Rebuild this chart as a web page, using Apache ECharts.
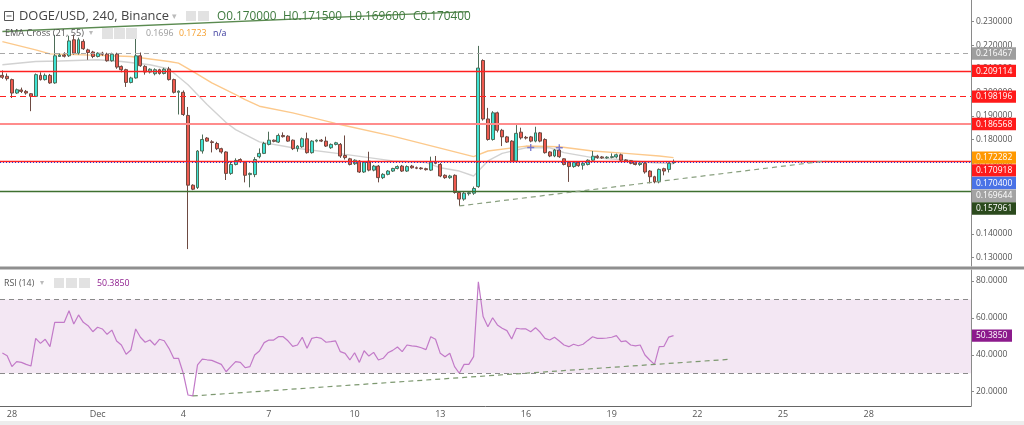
<!DOCTYPE html>
<html><head><meta charset="utf-8">
<script src="https://cdn.jsdelivr.net/npm/echarts@6/dist/echarts.min.js"></script>
<style>html,body{margin:0;padding:0;background:#fff}#c{width:1024px;height:425px}</style>
</head><body><div id="c"></div><script>
// ---- data ----
const opens = [0.2072,0.2068,0.2054,0.1997,0.2010,0.2004,0.1994,0.1983,0.2072,0.2054,
0.2072,0.2040,0.2152,0.2158,0.2155,0.2223,0.2166,0.2216,0.2180,0.2171,
0.2152,0.2166,0.2162,0.2134,0.2162,0.2110,0.2096,0.2042,0.2061,0.2155,
0.2110,0.2086,0.2079,0.2096,0.2080,0.2099,0.2054,0.2000,0.2000,0.1902,
0.1606,0.1596,0.1751,0.1806,0.1790,0.1783,0.1761,0.1747,0.1656,0.1694,
0.1715,0.1704,0.1651,0.1651,0.1727,0.1741,0.1779,0.1797,0.1789,0.1817,
0.1814,0.1797,0.1761,0.1769,0.1803,0.1744,0.1793,0.1797,0.1793,0.1765,
0.1779,0.1779,0.1732,0.1718,0.1697,0.1708,0.1662,0.1708,0.1670,0.1687,
0.1638,0.1652,0.1666,0.1677,0.1687,0.1666,0.1687,0.1680,0.1679,0.1676,
0.1670,0.1704,0.1694,0.1648,0.1638,0.1648,0.1575,0.1547,0.1570,0.1572,
0.1600,0.2135,0.1887,0.1800,0.1913,0.1839,0.1811,0.1793,0.1708,0.1831,
0.1809,0.1811,0.1793,0.1828,0.1800,0.1747,0.1730,0.1755,0.1718,0.1702,
0.1685,0.1702,0.1691,0.1694,0.1712,0.1729,0.1726,0.1722,0.1724,0.1726,
0.1735,0.1713,0.1710,0.1700,0.1694,0.1699,0.1666,0.1642,0.1620,0.1676,
0.1673,0.1700];
const highs = [0.2093,0.2080,0.2058,0.2016,0.2020,0.2010,0.1997,0.2080,0.2085,0.2080,
0.2078,0.2244,0.2165,0.2170,0.2240,0.2245,0.2232,0.2225,0.2185,0.2176,
0.2170,0.2172,0.2168,0.2168,0.2168,0.2114,0.2100,0.2066,0.2240,0.2169,
0.2115,0.2102,0.2102,0.2100,0.2104,0.2108,0.2058,0.2008,0.2008,0.1938,
0.1610,0.1755,0.1821,0.1810,0.1797,0.1790,0.1765,0.1750,0.1705,0.1720,
0.1720,0.1708,0.1660,0.1725,0.1762,0.1790,0.1833,0.1800,0.1825,0.1830,
0.1818,0.1800,0.1776,0.1808,0.1829,0.1797,0.1800,0.1802,0.1812,0.1783,
0.1790,0.1785,0.1817,0.1722,0.1716,0.1712,0.1708,0.1748,0.1692,0.1692,
0.1657,0.1670,0.1680,0.1690,0.1692,0.1690,0.1692,0.1685,0.1683,0.1680,
0.1727,0.1730,0.1700,0.1652,0.1650,0.1652,0.1580,0.1580,0.1580,0.1600,
0.2197,0.2140,0.1934,0.1920,0.1918,0.1845,0.1815,0.1797,0.1861,0.1850,
0.1815,0.1815,0.1854,0.1832,0.1805,0.1750,0.1760,0.1760,0.1720,0.1708,
0.1708,0.1708,0.1705,0.1716,0.1751,0.1735,0.1730,0.1729,0.1741,0.1740,
0.1740,0.1716,0.1712,0.1703,0.1704,0.1704,0.1670,0.1646,0.1677,0.1680,
0.1703,0.1715];
const lows = [0.2057,0.2050,0.1976,0.1993,0.1997,0.1990,0.1920,0.1980,0.2050,0.2050,
0.2036,0.2036,0.2150,0.2148,0.2150,0.2160,0.2160,0.2180,0.2138,0.2145,
0.2148,0.2155,0.2130,0.2130,0.2100,0.2085,0.2023,0.2038,0.2058,0.2108,
0.2075,0.2080,0.2072,0.2075,0.2076,0.2050,0.1995,0.1906,0.1900,0.1335,
0.1585,0.1590,0.1740,0.1790,0.1745,0.1755,0.1740,0.1628,0.1650,0.1690,
0.1700,0.1618,0.1597,0.1640,0.1720,0.1738,0.1775,0.1788,0.1785,0.1808,
0.1790,0.1755,0.1748,0.1765,0.1740,0.1740,0.1788,0.1789,0.1768,0.1760,
0.1775,0.1722,0.1715,0.1690,0.1692,0.1658,0.1658,0.1665,0.1665,0.1618,
0.1632,0.1648,0.1662,0.1673,0.1662,0.1662,0.1676,0.1674,0.1672,0.1668,
0.1666,0.1695,0.1640,0.1633,0.1633,0.1570,0.1518,0.1540,0.1562,0.1565,
0.1595,0.1880,0.1795,0.1795,0.1830,0.1772,0.1785,0.1704,0.1704,0.1800,
0.1800,0.1788,0.1788,0.1788,0.1740,0.1725,0.1725,0.1722,0.1690,0.1620,
0.1680,0.1684,0.1672,0.1690,0.1708,0.1718,0.1718,0.1718,0.1720,0.1720,
0.1708,0.1704,0.1695,0.1690,0.1688,0.1655,0.1614,0.1614,0.1614,0.1648,
0.1660,0.1696];
const closes = [0.2064,0.2058,0.1997,0.2011,0.2004,0.1997,0.1983,0.2075,0.2054,0.2072,
0.2040,0.2155,0.2158,0.2153,0.2218,0.2166,0.2223,0.2185,0.2169,0.2152,
0.2166,0.2162,0.2134,0.2162,0.2107,0.2096,0.2042,0.2061,0.2155,0.2113,
0.2086,0.2098,0.2096,0.2080,0.2098,0.2054,0.2000,0.2005,0.1906,0.1606,
0.1589,0.1751,0.1800,0.1793,0.1787,0.1761,0.1747,0.1656,0.1694,0.1711,
0.1706,0.1648,0.1656,0.1715,0.1741,0.1783,0.1797,0.1792,0.1817,0.1812,
0.1793,0.1761,0.1772,0.1803,0.1744,0.1793,0.1797,0.1793,0.1772,0.1779,
0.1786,0.1730,0.1723,0.1694,0.1712,0.1662,0.1704,0.1670,0.1687,0.1638,
0.1652,0.1666,0.1677,0.1685,0.1666,0.1685,0.1680,0.1678,0.1676,0.1672,
0.1704,0.1699,0.1645,0.1638,0.1645,0.1575,0.1547,0.1572,0.1574,0.1592,
0.2103,0.1887,0.1800,0.1913,0.1839,0.1811,0.1789,0.1708,0.1826,0.1807,
0.1806,0.1793,0.1828,0.1793,0.1744,0.1730,0.1755,0.1727,0.1694,0.1685,
0.1702,0.1689,0.1699,0.1712,0.1729,0.1723,0.1722,0.1725,0.1727,0.1735,
0.1712,0.1708,0.1699,0.1694,0.1700,0.1662,0.1642,0.1620,0.1673,0.1666,
0.1699,0.1704];
const ema21 = [[0,0.2117],[7,0.2131],[12,0.2133],[20,0.2138],[25,0.2131],[31,0.2117],[35,0.2099],
[39,0.2032],[43,0.1948],[47,0.1872],[49,0.1842],[54,0.1790],[61,0.1765],[72,0.1737],[82,0.1709],
[89,0.1702],[92,0.1680],[96,0.1666],[99,0.1645],[102,0.1709],[105,0.1741],[110,0.1765],[115,0.1765],
[118,0.1744],[124,0.1723],[131,0.1713],[136,0.1702],[141,0.169644]];
const ema55 = [[0,0.2215],[7,0.2180],[10,0.2163],[17,0.2159],[27,0.2152],[35,0.2131],[37,0.2124],
[40,0.2089],[44,0.2040],[49,0.1990],[51,0.1969],[54,0.1941],[61,0.1913],[70,0.1868],[82,0.1814],
[93,0.1758],[99,0.1727],[102,0.1751],[110,0.1772],[117,0.1769],[124,0.1751],[131,0.1741],[138,0.1730],
[141,0.172282]];
const rsi = [41.0,39.5,33.6,36.3,35.9,34.8,33.9,48.9,46.2,48.4,
44.4,57.6,57.6,57.6,63.9,56.7,61.6,57.6,55.8,52.5,
54.9,54.0,51.1,53.4,47.5,45.3,40.3,42.6,54.0,49.5,
46.8,48.0,45.3,48.4,47.6,43.5,38.1,38.1,30.0,18.2,
17.7,34.5,37.7,37.3,37.0,35.9,34.8,30.8,33.6,36.3,
35.9,33.0,33.6,39.9,42.1,46.6,48.0,48.0,49.8,49.8,
47.6,44.6,45.3,49.5,43.5,48.9,49.5,48.9,46.8,47.1,
47.5,41.7,40.8,37.2,41.1,35.9,42.2,39.3,41.3,37.2,
38.1,41.1,42.4,44.2,41.7,45.3,44.8,44.6,43.8,42.8,
49.8,48.4,40.8,39.0,40.8,33.6,30.0,34.8,34.8,39.0,
79.6,60.7,55.2,60.1,56.2,54.4,53.1,48.6,54.4,54.0,
54.0,52.5,54.7,52.2,48.9,48.0,49.5,47.5,45.3,44.4,
45.7,44.9,45.7,47.8,49.8,48.9,48.9,49.1,49.5,50.4,
47.1,47.5,45.3,44.8,45.3,39.9,37.2,34.8,44.4,44.6,
49.6,50.385];
const emaCrosses = [[111,0.1766],[117,0.1765]];
const lvlGray = 0.216467, lvlRed1 = 0.209114, lvlRedDash = 0.198196, lvlPink = 0.186568, lvlRed2 = 0.170918, lvlGreen = 0.157961;
const topTrend = [[0,0.2258],[98,0.2342]];
const supportTrend = [[96,0.1518],[173,0.1709]];
const rsiTrend = [[40,17.7],[153,37.6]];
const rsiBand = [30,70];
const priceTicks = [0.13,0.14,0.15,0.16,0.17,0.18,0.19,0.20,0.21,0.22,0.23];
const rsiTicks = [20,40,60,80];
const xTickDays = ['11-28','12-01','12-04','12-07','12-10','12-13','12-16','12-19','12-22','12-25','12-28'];
const xTickLabels = ['28','Dec','4','7','10','13','16','19','22','25','28'];
const startTime = Date.UTC(2018,10,27,16);
const barHours = 4, barCount = 204;
// ---- categories ----
const pad = n => (n<10?'0':'')+n;
const categories = [];
for (let i=0;i<barCount;i++){ const d=new Date(startTime+i*barHours*3600e3);
  categories.push(pad(d.getUTCMonth()+1)+'-'+pad(d.getUTCDate())+' '+pad(d.getUTCHours())+':00'); }
const tickIdx = c => { const p=c.split(' '); return p[1]==='00:00' ? xTickDays.indexOf(p[0]) : -1; };
const candles = opens.map((o,i)=>[o,closes[i],lows[i],highs[i]]);
const FONT = 'Open Sans';
const chart = echarts.init(document.getElementById('c'), null, {renderer:'canvas'});
const hl = (v,color,type,width)=>({type:'line',xAxisIndex:0,yAxisIndex:0,silent:true,data:[],z:2,
  markLine:{silent:true,symbol:'none',label:{show:false},precision:6,
    lineStyle:{color:color,type:type,width:width,opacity:1},data:[{yAxis:v}]}});
chart.setOption({
  animation:false, backgroundColor:'#fff',
  grid:[{left:0,top:0,width:971,height:266,outerBoundsMode:'none'},{left:0,top:270,width:971,height:136,outerBoundsMode:'none'}],
  xAxis:[
    {type:'category',gridIndex:0,data:categories,boundaryGap:true,show:false},
    {type:'category',gridIndex:1,data:categories,boundaryGap:true,
     axisLine:{lineStyle:{color:'#666'}},
     axisTick:{alignWithLabel:true,length:3,interval:(i,v)=>tickIdx(v)>=0,lineStyle:{color:'#666'}},
     axisLabel:{interval:(i,v)=>tickIdx(v)>=0,formatter:v=>{const k=tickIdx(v);return k>=0?xTickLabels[k]:'';},
       fontSize:9,color:'#555',margin:4,fontFamily:FONT}}
  ],
  yAxis:[
    {type:'value',gridIndex:0,position:'right',min:0.12632,max:0.23917,splitLine:{show:false},
     axisLine:{show:true,lineStyle:{color:'#8a8a8a'}},
     axisTick:{show:true,length:3,customValues:priceTicks,lineStyle:{color:'#8a8a8a'}},
     axisLabel:{customValues:priceTicks,formatter:v=>v.toFixed(6),fontSize:8.5,color:'#555',margin:5,fontFamily:FONT}},
    {type:'value',gridIndex:1,position:'right',min:12.25,max:85.96,splitLine:{show:false},
     axisLine:{show:true,lineStyle:{color:'#8a8a8a'}},
     axisTick:{show:true,length:3,customValues:rsiTicks,lineStyle:{color:'#8a8a8a'}},
     axisLabel:{customValues:rsiTicks,formatter:v=>v.toFixed(4),fontSize:8.5,color:'#555',margin:5,fontFamily:FONT}}
  ],
  series:[
    hl(lvlGray,'#a8a8a8',[5,4],1), hl(lvlRed1,'#ff2020',[2000,1],1.4), hl(lvlRedDash,'#ff2020',[6,4],1),
    hl(lvlPink,'#ff8c8c',[2000,1],2), hl(lvlRed2,'#ff2020',[2000,1],1.4), hl(lvlGreen,'#3f7030',[2000,1],1.3),
    hl(closes[closes.length-1],'#3535d5',[1,2],1),
    {type:'line',xAxisIndex:0,yAxisIndex:0,data:ema55,showSymbol:false,connectNulls:true,silent:true,
     lineStyle:{color:'#fcc98c',width:1.4},z:3},
    {type:'line',xAxisIndex:0,yAxisIndex:0,data:ema21,showSymbol:false,connectNulls:true,silent:true,
     lineStyle:{color:'#d2d2d2',width:1.4},z:3},
    {type:'candlestick',xAxisIndex:0,yAxisIndex:0,data:candles,barWidth:3.4,z:4,
     itemStyle:{color:'#3fe3d4',color0:'#ef5a4f',borderColor:'#4d6d58',borderColor0:'#6d4a42',borderWidth:1},
     markLine:{silent:true,symbol:'none',label:{show:false},precision:6,
      data:[
        [{coord:topTrend[0]},{coord:topTrend[1],lineStyle:{color:'#5a8a50',width:1.3,type:'solid'}}],
        [{coord:supportTrend[0]},{coord:supportTrend[1],lineStyle:{color:'#8aa080',width:1.2,type:[5,4]}}]
      ]}},
    {type:'scatter',xAxisIndex:0,yAxisIndex:0,data:emaCrosses,symbol:'path://M4,0H6V4H10V6H6V10H4V6H0V4H4Z',
     symbolSize:7,itemStyle:{color:'#6262c8'},silent:true,z:5},
    {type:'line',xAxisIndex:1,yAxisIndex:1,data:rsi,showSymbol:false,silent:true,
     lineStyle:{color:'#c27ac8',width:1.2},z:3,
     markArea:{silent:true,itemStyle:{color:'rgba(150,40,150,0.11)'},data:[[{yAxis:rsiBand[0]},{yAxis:rsiBand[1]}]]},
     markLine:{silent:true,symbol:'none',label:{show:false},precision:4,
      lineStyle:{color:'#8a8a8a',type:[5,4],width:1},
      data:[{yAxis:rsiBand[1]},{yAxis:rsiBand[0]},
        [{coord:rsiTrend[0]},{coord:rsiTrend[1],lineStyle:{color:'#7d9870',width:1.2,type:[5,4]}}]]}}
  ]
});
// ---- overlays ----
const g = [];
const txt = (x,y,t,color,size,extra)=>g.push(Object.assign({type:'text',x,y,z:100,silent:true,
  style:{text:t,fill:color,fontSize:size,fontFamily:FONT,verticalAlign:'middle',align:'left'}},extra||{}));
const box = (x,y,w,h,fill)=>g.push({type:'rect',z:99,silent:true,shape:{x,y,width:w,height:h},style:{fill}});
// separator & bottom strip
box(0,266.5,1024,3,'#8f8f8f');
box(0,421,1024,4,'#ededed');
// header row 1
g.push({type:'rect',z:100,silent:true,shape:{x:4.5,y:11.5,width:9,height:9},style:{fill:'none',stroke:'#555',lineWidth:1}});
g.push({type:'line',z:100,silent:true,shape:{x1:6.5,y1:16,x2:11.5,y2:16},style:{stroke:'#555',lineWidth:1}});
txt(19,16.5,'DOGE/USD, 240, Binance','#444',12.9);
txt(172,16,'▾','#bbb',9);
box(186,11,10,10,'#e2e2e2'); box(198,11,11,10,'#e2e2e2');
const last = closes.length-1;
txt(217,16.5,'O'+opens[last].toFixed(6),'#3f7a3f',11.8);
txt(283,16.5,'H'+highs[last].toFixed(6),'#3f7a3f',11.8);
txt(349,16.5,'L'+lows[last].toFixed(6),'#3f7a3f',11.8);
txt(413,16.5,'C'+closes[last].toFixed(6),'#3f7a3f',11.8);
// header row 2
txt(5,33.5,'EMA Cross (21, 55)','#555',9.2);
txt(89,33,'▾','#bbb',8);
box(102,28,11,11,'#e2e2e2'); box(114,28,11,11,'#e2e2e2'); box(126,28,11,11,'#e2e2e2');
txt(146,33.5,ema21[ema21.length-1][1].toFixed(4),'#9a9a9a',8.8);
txt(179,33.5,ema55[ema55.length-1][1].toFixed(4),'#f5a030',8.8);
txt(213,33.5,'n/a','#34349a',8.8);
// rsi header
txt(4,283,'RSI (14)','#555',8.8);
txt(40,283,'▾','#bbb',8);
box(54,278,10,10,'#e2e2e2'); box(66,278,11,10,'#e2e2e2'); box(79,278,11,10,'#e2e2e2');
txt(97,283,rsi[rsi.length-1].toFixed(4),'#8e1e8e',8.8);
// right axis labels (stacked)
const labs = [
  {v:lvlGray,c:'#9e9e9e'},{v:lvlRed1,c:'#ff1a1a'},{v:lvlRedDash,c:'#ff1a1a'},{v:lvlPink,c:'#ff1a1a'},
  {v:ema55[ema55.length-1][1],c:'#ff9800'},{v:lvlRed2,c:'#ff1a1a'},{v:closes[last],c:'#4a72e6'},
  {v:ema21[ema21.length-1][1],c:'#a3a3a3'},{v:lvlGreen,c:'#2b4a1d'}
].map(o=>Object.assign(o,{y:chart.convertToPixel({yAxisIndex:0},o.v)})).sort((a,b)=>a.y-b.y);
let prev=-1e9;
labs.forEach(o=>{ const y=Math.max(o.y,prev+12.7); prev=y;
  box(972,y-6.2,44,12.4,o.c); txt(976,y+0.3,o.v.toFixed(6),'#fff',8.5); });
const ry = chart.convertToPixel({yAxisIndex:1}, rsi[rsi.length-1]);
box(972,ry-6.2,40,12.4,'#8c1a8c'); txt(976,ry+0.3,rsi[rsi.length-1].toFixed(4),'#fff',8.5);
chart.setOption({graphic:g});
</script></body></html>
